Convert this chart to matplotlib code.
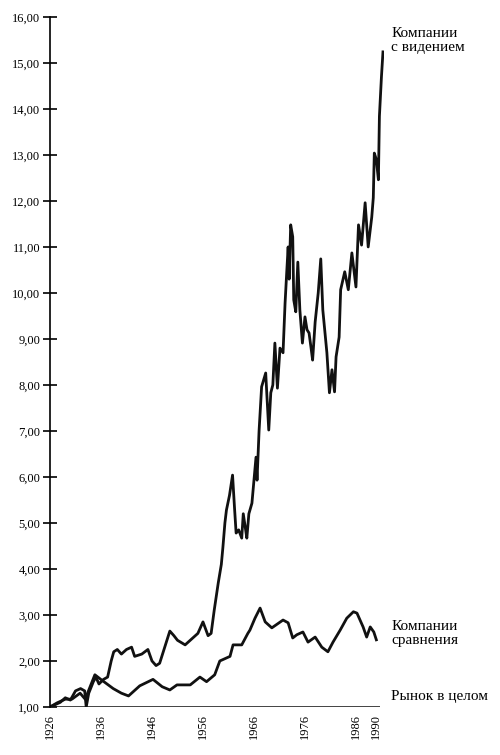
import matplotlib
matplotlib.use('Agg')
import matplotlib.pyplot as plt

# visionary companies (ratio to market)
vis_years = [1926, 1927, 1928, 1929, 1930, 1931, 1932, 1932.8, 1933.1, 1933.6, 1934.5, 1935,
             1935.6, 1936.5, 1937.3, 1938, 1938.5, 1939.2, 1940, 1941, 1942, 1942.6, 1944,
             1945.2, 1946, 1946.8, 1947.5, 1948.5, 1949.5, 1950.3, 1951, 1952.5, 1954, 1955,
             1956, 1956.5, 1957, 1957.6, 1958.2, 1959, 1959.6, 1959.9, 1960.3, 1960.6, 1961.2,
             1961.8, 1962.2, 1962.5, 1963, 1963.6, 1963.9, 1964.3, 1964.6, 1965, 1965.6,
             1966.4, 1966.6, 1967, 1967.5, 1968.3, 1968.9, 1969.3, 1969.7, 1970.1, 1970.6,
             1971.1, 1971.7, 1972.1, 1972.4, 1972.7, 1972.9, 1973.2, 1973.6, 1973.8, 1974.2,
             1974.6, 1975.0, 1975.5, 1976.0, 1976.4, 1976.8, 1977.2, 1977.5, 1978.0, 1978.6,
             1979.1, 1979.5, 1980.3, 1980.8, 1981.3, 1981.8, 1982.1, 1982.7, 1983.0, 1983.8,
             1984.5, 1985.2, 1986.0, 1986.5, 1987.1, 1987.8, 1988.4, 1989.1, 1989.4, 1989.6,
             1990.0, 1990.4, 1990.6, 1991.0, 1991.3]
vis_vals = [1.0, 1.05, 1.1, 1.2, 1.15, 1.35, 1.4, 1.35, 1.0, 1.3, 1.55, 1.65,
            1.5, 1.6, 1.65, 2.0, 2.2, 2.25, 2.15, 2.25, 2.3, 2.1, 2.15,
            2.25, 2.0, 1.9, 1.95, 2.3, 2.65, 2.55, 2.45, 2.35, 2.5, 2.6,
            2.85, 2.7, 2.55, 2.6, 3.1, 3.7, 4.1, 4.46, 5.0, 5.28, 5.6,
            6.04, 5.3, 4.78, 4.85, 4.67, 5.2, 4.9, 4.67, 5.2, 5.43,
            6.43, 5.93, 7.0, 7.96, 8.26, 7.02, 7.83, 8.0, 8.91, 7.93,
            8.8, 8.7, 9.78, 10.4, 11.0, 10.3, 11.48, 11.22, 9.85, 9.59,
            10.67, 9.63, 8.91, 9.48, 9.2, 9.13, 8.8, 8.54, 9.37, 10.0,
            10.74, 9.63, 8.7, 7.83, 8.33, 7.85, 8.61, 9.04, 10.07, 10.46,
            10.07, 10.87, 10.13, 11.48, 11.04, 11.96, 11.0, 11.65, 12.07, 13.04,
            12.9, 12.46, 13.84, 14.7, 15.24]

# comparison companies
cmp_years = [1926, 1927.4, 1929, 1930.3, 1931.9, 1932.9, 1934.8, 1936.2, 1938.4, 1940, 1941.4,
             1943.6, 1946.2, 1948, 1949.5, 1950.9, 1953.5, 1955.4, 1956.7, 1958.3, 1959.3,
             1961.3, 1961.9, 1963.6, 1964.8, 1965.2, 1966.2, 1967.2, 1968.2, 1969.5, 1971.7,
             1972.7, 1973.6, 1974.4, 1975.6, 1976.6, 1978, 1979.3, 1980.5, 1981.5, 1982.9,
             1984.2, 1985.5, 1986.2, 1987.4, 1988.1, 1988.8, 1989.5, 1990]
cmp_vals = [1.0, 1.09, 1.17, 1.17, 1.3, 1.17, 1.7, 1.58, 1.4, 1.3, 1.24,
            1.46, 1.6, 1.44, 1.37, 1.48, 1.48, 1.65, 1.55, 1.7, 2.0,
            2.1, 2.35, 2.35, 2.6, 2.67, 2.93, 3.15, 2.85, 2.72, 2.89,
            2.83, 2.5, 2.57, 2.63, 2.41, 2.52, 2.3, 2.2, 2.41, 2.67,
            2.93, 3.07, 3.04, 2.74, 2.52, 2.74, 2.63, 2.46]

# market as a whole (baseline)
mkt_years = [1926, 1990.7]
mkt_vals = [1.0, 1.0]

year_ticks = [1926, 1936, 1946, 1956, 1966, 1976, 1986, 1990]
y_ticks = list(range(1, 17))
y_labels = ['%d,00' % v for v in y_ticks]

plt.rcParams['font.family'] = ['Liberation Serif', 'DejaVu Serif']

fig = plt.figure(figsize=(5, 7.55), dpi=100)
ax = fig.add_axes([0.1, 0.0636, 0.668, 0.914])

ax.plot(mkt_years, mkt_vals, color='#111111', lw=1.1, solid_capstyle='butt')
ax.plot(cmp_years, cmp_vals, color='#111111', lw=2.0)
ax.plot(vis_years, vis_vals, color='#111111', lw=2.0)

ax.set_xlim(1926, 1991.5)
ax.set_ylim(1, 16)
ax.set_yticks(y_ticks)
ax.set_yticklabels(y_labels, fontsize=9)
ax.set_xticks(year_ticks)
ax.set_xticklabels([str(y) for y in year_ticks], rotation=90, fontsize=9)
ax.tick_params(axis='y', direction='inout', length=10, width=1.2, pad=2)
ax.tick_params(axis='x', length=0, pad=5)

for s in ['top', 'right', 'bottom']:
    ax.spines[s].set_visible(False)
ax.spines['left'].set_linewidth(1.2)

ax.text(1992.9, 15.48, 'Компании\nс видением', fontsize=11, va='center', ha='left',
        linespacing=1.1, clip_on=False)
ax.text(1992.9, 2.6, 'Компании\nсравнения', fontsize=11, va='center', ha='left',
        linespacing=1.1, clip_on=False)
ax.text(1992.9, 1.22, 'Рынок в целом', fontsize=11, va='center', ha='left', clip_on=False)

fig.savefig('out.png', dpi=100)
